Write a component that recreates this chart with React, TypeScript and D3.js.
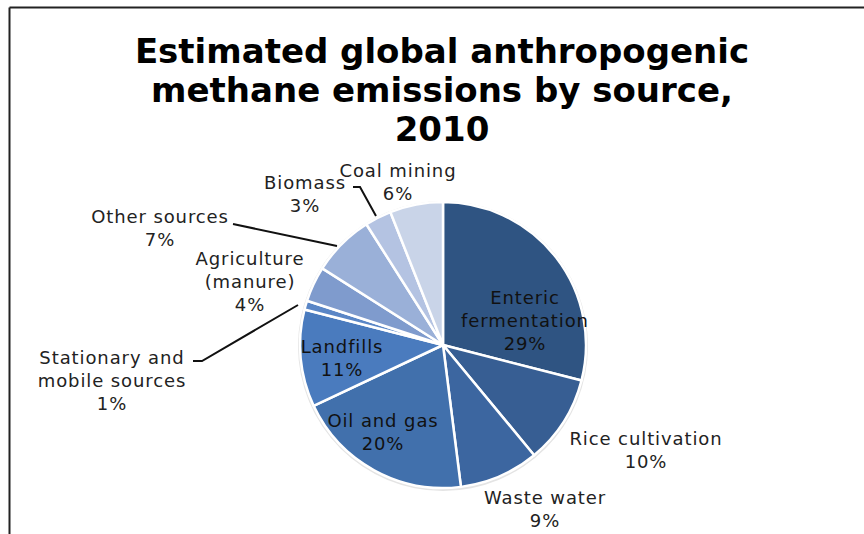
import React from "react";
import * as d3 from "d3";

const categories = [
  "Enteric fermentation",
  "Rice cultivation",
  "Waste water",
  "Oil and gas",
  "Landfills",
  "Stationary and mobile sources",
  "Agriculture (manure)",
  "Other sources",
  "Biomass",
  "Coal mining",
];
const values = [29, 10, 9, 20, 11, 1, 4, 7, 3, 6];
const colors = [
  "#2f5482",
  "#375e93",
  "#3c66a0",
  "#4170ac",
  "#4a7bbe",
  "#5a86c6",
  "#7f9bcd",
  "#9ab0d8",
  "#b4c3e2",
  "#c9d4e8",
];
const titleLines = [
  "Estimated global anthropogenic",
  "methane emissions by source,",
  "2010",
];

// label line blocks (text lines), anchor position and optional leader line
const labelLines: string[][] = [
  ["Enteric", "fermentation", "29%"],
  ["Rice cultivation", "10%"],
  ["Waste water", "9%"],
  ["Oil and gas", "20%"],
  ["Landfills", "11%"],
  ["Stationary and", "mobile sources", "1%"],
  ["Agriculture", "(manure)", "4%"],
  ["Other sources", "7%"],
  ["Biomass", "3%"],
  ["Coal mining", "6%"],
];
const labelPos: [number, number][] = [
  [525, 304],
  [646, 445],
  [545, 504],
  [383, 427],
  [342, 353],
  [112, 364],
  [250, 265],
  [160, 223],
  [305, 189],
  [398, 177],
];
const leaders: ([number, number][] | null)[] = [
  null,
  null,
  null,
  null,
  null,
  [[193, 361], [202, 361], [298, 305]],
  null,
  [[233, 224], [337, 246]],
  [[353, 187], [360, 187], [376, 216]],
  null,
];

export default function App() {
  const W = 864;
  const H = 534;
  const cx = 443;
  const cy = 345;
  const r = 143;
  const pie = d3
    .pie<number>()
    .sort(null)
    .value((d) => d)(values);
  const arc = d3.arc<d3.PieArcDatum<number>>().innerRadius(0).outerRadius(r);
  const lineGen = d3.line();
  const font = "'DejaVu Sans', Verdana, sans-serif";
  return (
    <svg
      width={W}
      height={H}
      style={{ position: "absolute", left: 0, top: 0, background: "#fff" }}
    >
      <rect x={0} y={0} width={W} height={H} fill="#fff" />
      <line x1={9.5} y1={7.5} x2={W} y2={7.5} stroke="#222" strokeWidth={2} />
      <line x1={9.5} y1={7.5} x2={9.5} y2={H} stroke="#222" strokeWidth={2} />
      {titleLines.map((t, i) => (
        <text
          key={i}
          x={442}
          y={63 + i * 39}
          textAnchor="middle"
          fontFamily={font}
          fontWeight="bold"
          fontSize={34}
          fill="#000"
        >
          {t}
        </text>
      ))}
      <circle cx={cx} cy={cy + 1} r={r + 2} fill="#e4e4e4" />
      <g transform={`translate(${cx},${cy})`}>
        {pie.map((d, i) => (
          <path
            key={i}
            d={arc(d) || ""}
            fill={colors[i]}
            stroke="#fff"
            strokeWidth={2.5}
            strokeLinejoin="round"
          />
        ))}
      </g>
      {leaders.map((l, i) =>
        l ? (
          <path
            key={i}
            d={lineGen(l) || ""}
            fill="none"
            stroke="#111"
            strokeWidth={2}
          />
        ) : null
      )}
      {labelLines.map((lines, i) => (
        <g key={i}>
          {lines.map((t, j) => (
            <text
              key={j}
              x={labelPos[i][0]}
              y={labelPos[i][1] + j * 23}
              textAnchor="middle"
              fontFamily={font}
              fontSize={18}
              letterSpacing={0.9}
              fill={i === 0 || i === 3 || i === 4 ? "#111" : "#222"}
            >
              {t}
            </text>
          ))}
        </g>
      ))}
    </svg>
  );
}
